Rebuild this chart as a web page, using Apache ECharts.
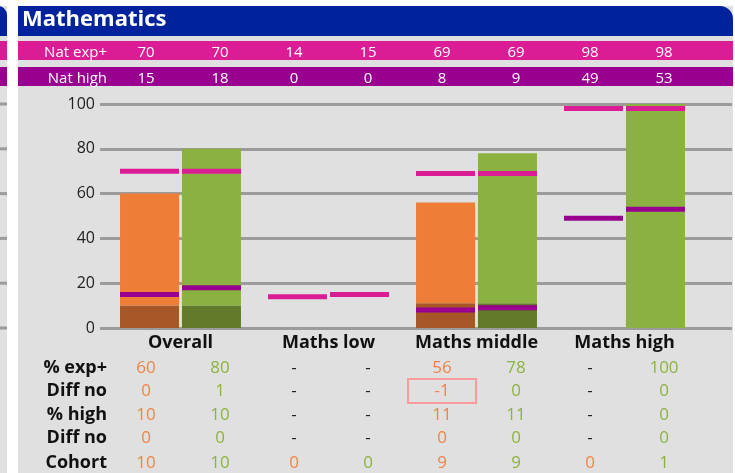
<!DOCTYPE html>
<html><head><meta charset="utf-8">
<script src="https://cdn.jsdelivr.net/npm/echarts@6/dist/echarts.min.js"></script>
<style>html,body{margin:0;padding:0;background:#fff}#c{width:735px;height:473px}</style>
</head><body><div id="c"></div>
<script>
// ---- data ----
const title = 'Mathematics';
const categories = ['Overall', 'Maths low', 'Maths middle', 'Maths high'];
const natExpLabel = 'Nat exp+';
const natHighLabel = 'Nat high';
const natExp = [70, 70, 14, 15, 69, 69, 98, 98];
const natHigh = [15, 18, 0, 0, 8, 9, 49, 53];
const rowLabels = ['% exp+', 'Diff no', '% high', 'Diff no', 'Cohort'];
const pctExp = ['60', '80', '-', '-', '56', '78', '-', '100'];
const diffExp = ['0', '1', '-', '-', '-1', '0', '-', '0'];
const pctHigh = ['10', '10', '-', '-', '11', '11', '-', '0'];
const diffHigh = ['0', '0', '-', '-', '0', '0', '-', '0'];
const cohort = ['10', '10', '0', '0', '9', '9', '0', '1'];
const flagged = [[1, 4]]; // [row, column] cells with a box
const yTicks = [0, 20, 40, 60, 80, 100];

// ---- derived ----
const FONT = 'Open Sans';
const C = {
  orange: '#ED7D37', orangeDark: '#A65627', green: '#8BB240', greenDark: '#617B2B',
  pink: '#DB1C94', purple: '#990090', grey: '#E0E0E0', grid: '#9B9B9B', blue: '#00229C',
  orangeText: '#EE8447', greenText: '#8CB340'
};
const num = s => (s === '-' ? null : Number(s));
const col = (arr, k) => categories.map((_, i) => arr[2 * i + k]);
const expO = col(pctExp, 0).map(num), expG = col(pctExp, 1).map(num);
const highO = col(pctHigh, 0).map(num), highG = col(pctHigh, 1).map(num);
const rest = (e, h) => e.map((v, i) => (v == null ? null : v - (h[i] || 0)));
const colIds = natExp.map((_, i) => 'c' + i);
const markerData = (arr, k) => categories.map((_, i) => [i, arr[2 * i + k]]).filter(d => d[1] > 0);

const tableRows = [pctExp, diffExp, pctHigh, diffHigh, cohort];
const rowOffsets = [40, 63, 87, 110, 135];

const richBase = { fontFamily: FONT, fontSize: 17 };
const rich = {
  o: Object.assign({ color: C.orangeText }, richBase),
  g: Object.assign({ color: C.greenText }, richBase),
  d: Object.assign({ color: '#222' }, richBase),
  bo: Object.assign({ color: C.orangeText, borderColor: '#FF9A9A', borderWidth: 2, width: 68, height: 24, lineHeight: 24, align: 'center' }, richBase),
  bg: Object.assign({ color: C.greenText, borderColor: '#FF9A9A', borderWidth: 2, width: 68, height: 24, lineHeight: 24, align: 'center' }, richBase)
};
const noLine = { show: false, onZero: false };

const xAxes = [
  { gridIndex: 0, type: 'value', show: false, min: 0, max: 1 },
  { gridIndex: 1, type: 'category', data: categories,
    axisLine: noLine, axisTick: { show: false },
    axisLabel: { interval: 0, margin: 15, verticalAlign: 'middle', color: '#111', fontFamily: FONT, fontWeight: 'bold', fontSize: 18 } },
  { gridIndex: 2, type: 'category', data: colIds, position: 'top', offset: 51,
    axisLine: noLine, axisTick: { show: false },
    name: natExpLabel, nameLocation: 'start', nameGap: 2,
    nameTextStyle: { color: '#fff', fontFamily: FONT, fontSize: 15, verticalAlign: 'middle' },
    axisLabel: { interval: 0, margin: 0, verticalAlign: 'middle', color: '#fff', fontFamily: FONT, fontSize: 15,
      formatter: (v, i) => String(natExp[i]) } },
  { gridIndex: 2, type: 'category', data: colIds, position: 'top', offset: 25,
    axisLine: noLine, axisTick: { show: false },
    name: natHighLabel, nameLocation: 'start', nameGap: 2,
    nameTextStyle: { color: '#fff', fontFamily: FONT, fontSize: 15, verticalAlign: 'middle' },
    axisLabel: { interval: 0, margin: 0, verticalAlign: 'middle', color: '#fff', fontFamily: FONT, fontSize: 15,
      formatter: (v, i) => String(natHigh[i]) } }
];
tableRows.forEach((row, r) => {
  xAxes.push({
    gridIndex: 2, type: 'category', data: colIds, position: 'bottom', offset: rowOffsets[r],
    axisLine: noLine, axisTick: { show: false },
    name: rowLabels[r], nameLocation: 'start', nameGap: 2,
    nameTextStyle: { color: '#111', fontFamily: FONT, fontSize: 18, fontWeight: 'bold', verticalAlign: 'middle' },
    axisLabel: { interval: 0, margin: 0, verticalAlign: 'middle', rich: rich,
      formatter: (v, i) => {
        const t = row[i];
        const boxed = flagged.some(f => f[0] === r && f[1] === i);
        let s = t === '-' ? 'd' : (i % 2 === 0 ? 'o' : 'g');
        if (boxed) s = i % 2 === 0 ? 'bo' : 'bg';
        return '{' + s + '|' + t + '}';
      } }
  });
});

const bg = (x, y, w, h, fill, r) => ({ type: 'rect', z: -10, silent: true, shape: { x, y, width: w, height: h, r: r || 0 }, style: { fill } });
const graphics = [
  bg(-20, 6, 27, 467, C.grey),
  bg(-20, 6, 27, 30, C.blue, [0, 9, 0, 0]),
  bg(0, 41, 7, 19, C.pink),
  bg(0, 67, 7, 19, C.purple),
  bg(18, 6, 715, 467, C.grey),
  bg(18, 6, 715, 30, C.blue, [0, 13, 0, 0]),
  bg(18, 41, 715, 19, C.pink),
  bg(18, 67, 715, 19, C.purple)
];
yTicks.forEach(t => {
  const y = 328 - t * 2.24;
  graphics.push({ type: 'rect', z: -9, silent: true, shape: { x: 0, y: y - 1.5, width: 7, height: 3 }, style: { fill: C.grid } });
});

const option = {
  animation: false,
  backgroundColor: '#fff',
  textStyle: { fontFamily: FONT },
  title: { text: title, left: 17, top: 4, textStyle: { color: '#fff', fontFamily: FONT, fontWeight: 'bold', fontSize: 22 } },
  graphic: { elements: graphics },
  grid: [
    { left: 100, right: 3, top: 104, height: 224 },
    { left: 106.5, width: 592, top: 104, height: 224 },
    { left: 109, width: 592, top: 104, height: 224 }
  ],
  xAxis: xAxes,
  yAxis: [
    { gridIndex: 0, type: 'value', min: yTicks[0], max: yTicks[yTicks.length - 1], interval: yTicks[1] - yTicks[0],
      axisLine: { show: false }, axisTick: { show: false },
      axisLabel: { margin: 5, color: '#222', fontFamily: FONT, fontSize: 16 },
      splitLine: { lineStyle: { color: C.grid, width: 3 } } },
    { gridIndex: 1, type: 'value', min: yTicks[0], max: yTicks[yTicks.length - 1], show: false },
    { gridIndex: 2, type: 'value', show: false }
  ],
  series: [
    { type: 'bar', xAxisIndex: 1, yAxisIndex: 1, stack: 'o', barWidth: 59, barGap: '5%', data: highO, itemStyle: { color: C.orangeDark }, silent: true },
    { type: 'bar', xAxisIndex: 1, yAxisIndex: 1, stack: 'o', barWidth: 59, barGap: '5%', data: rest(expO, highO), itemStyle: { color: C.orange }, silent: true },
    { type: 'bar', xAxisIndex: 1, yAxisIndex: 1, stack: 'g', barWidth: 59, barGap: '5%', data: highG, itemStyle: { color: C.greenDark }, silent: true },
    { type: 'bar', xAxisIndex: 1, yAxisIndex: 1, stack: 'g', barWidth: 59, barGap: '5%', data: rest(expG, highG), itemStyle: { color: C.green }, silent: true },
    { type: 'scatter', xAxisIndex: 1, yAxisIndex: 1, symbol: 'rect', symbolSize: [59, 5], symbolOffset: [-31, 0], data: markerData(natHigh, 0), itemStyle: { color: C.purple, opacity: 1 }, silent: true, z: 5 },
    { type: 'scatter', xAxisIndex: 1, yAxisIndex: 1, symbol: 'rect', symbolSize: [59, 5], symbolOffset: [31, 0], data: markerData(natHigh, 1), itemStyle: { color: C.purple, opacity: 1 }, silent: true, z: 5 },
    { type: 'scatter', xAxisIndex: 1, yAxisIndex: 1, symbol: 'rect', symbolSize: [59, 5], symbolOffset: [-31, 0], data: markerData(natExp, 0), itemStyle: { color: C.pink, opacity: 1 }, silent: true, z: 5 },
    { type: 'scatter', xAxisIndex: 1, yAxisIndex: 1, symbol: 'rect', symbolSize: [59, 5], symbolOffset: [31, 0], data: markerData(natExp, 1), itemStyle: { color: C.pink, opacity: 1 }, silent: true, z: 5 }
  ]
};
const chart = echarts.init(document.getElementById('c'), null, { renderer: 'canvas' });
chart.setOption(option);
</script></body></html>
